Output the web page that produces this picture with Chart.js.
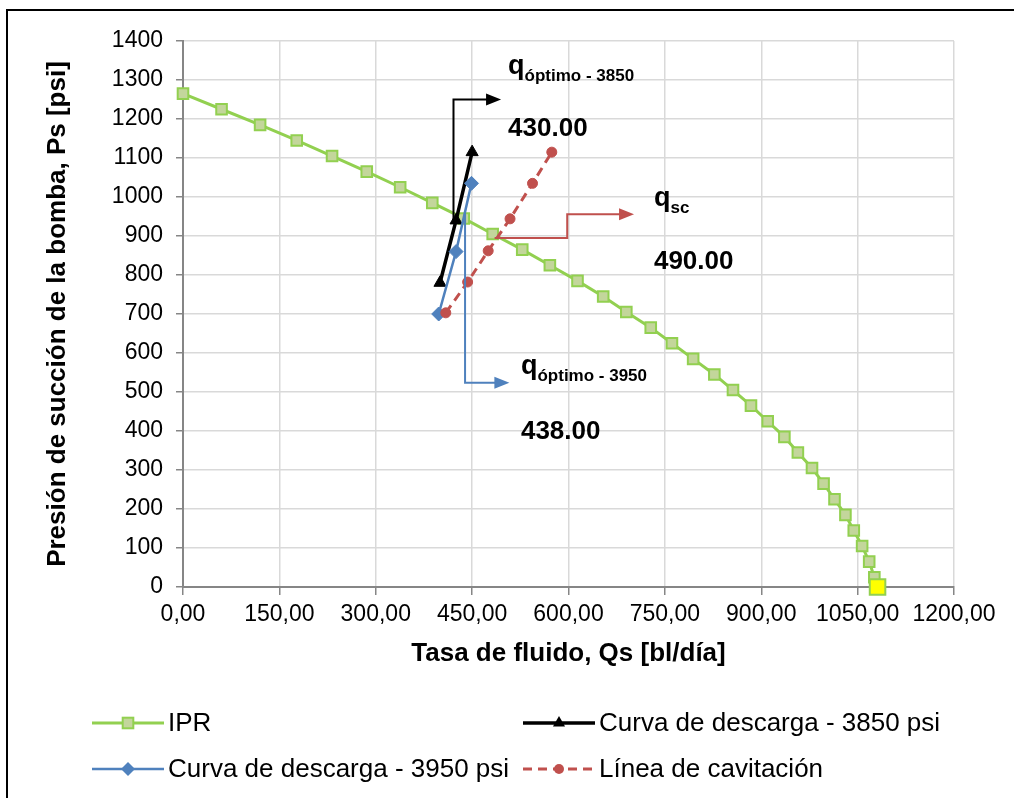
<!DOCTYPE html>
<html lang="es">
<head>
<meta charset="UTF-8">
<title>IPR y curvas de descarga</title>
<script src="https://cdn.jsdelivr.net/npm/chart.js"></script>
<style>
    body { margin: 0; padding: 0; background: #ffffff; }
    .wrap { position: relative; width: 1014px; height: 798px; }
</style>
</head>
<body>
<div class="wrap">
    <canvas id="iprChart" width="1014" height="798"></canvas>
</div>
<script>
// IPR curve (Qs in bl/dia, Ps in psi)
const iprQ = [0, 60, 120, 177, 232, 286, 338, 388, 437, 482, 528, 571, 614, 654, 690, 728, 761,
              794, 827, 856, 884, 910, 936, 957, 979, 997, 1014, 1031, 1044, 1057, 1068, 1076, 1081];
const iprP = [1265, 1225, 1185, 1145, 1105, 1065, 1025, 985, 945, 905, 865, 825, 785, 745, 705, 665, 625,
              585, 545, 505, 465, 425, 385, 345, 305, 265, 225, 185, 145, 105, 65, 25, 0];

// discharge curves
const desc3850Q = [400, 425, 450];
const desc3850P = [780, 940, 1115];
const desc3950Q = [398, 425, 449];
const desc3950P = [700, 860, 1035];

// cavitation line
const cavQ = [409, 443, 475, 509, 544, 574];
const cavP = [703, 782, 862, 944, 1035, 1115];

// results shown next to the arrows
const qOptimo3850 = 430.00;
const qSc = 490.00;
const qOptimo3950 = 438.00;

const xTicks = [0, 150, 300, 450, 600, 750, 900, 1050, 1200];

const toPoints = (qs, ps) => qs.map((q, i) => ({ x: q, y: ps[i] }));
const lastIpr = iprQ.length - 1;

// connector arrows, in data units: polyline ending with an arrow head
const arrows = [
    { color: '#000000', pts: [[421, 937], [421, 1250], [495, 1250]] },
    { color: '#4F81BD', pts: [[439, 958], [439, 524], [508, 524]] },
    { color: '#C0504D', pts: [[485, 895], [598, 895], [598, 956], [702, 956]] }
];

// annotation labels, anchored in data units
const notes = [
    { q: 506, p: 1316, main: 'q', sub: 'óptimo - 3850', value: qOptimo3850, valueP: 1176 },
    { q: 733, p: 976, main: 'q', sub: 'sc', value: qSc, valueP: 833 },
    { q: 526, p: 546, main: 'q', sub: 'óptimo - 3950', value: qOptimo3950, valueP: 398 }
];

function drawMarker(ctx, style, x, y, r) {
    ctx.beginPath();
    if (style === 'rect') {
        const s = r * Math.SQRT1_2;
        ctx.rect(x - s, y - s, 2 * s, 2 * s);
    } else if (style === 'triangle') {
        ctx.moveTo(x, y - r);
        ctx.lineTo(x + r * 0.866, y + r / 2);
        ctx.lineTo(x - r * 0.866, y + r / 2);
        ctx.closePath();
    } else if (style === 'rectRot') {
        ctx.moveTo(x, y - r);
        ctx.lineTo(x + r, y);
        ctx.lineTo(x, y + r);
        ctx.lineTo(x - r, y);
        ctx.closePath();
    } else {
        ctx.arc(x, y, r, 0, Math.PI * 2);
    }
    ctx.fill();
}

const annotationPlugin = {
    id: 'annotations',
    afterDatasetsDraw(chart) {
        const ctx = chart.ctx;
        const xs = chart.scales.x, ys = chart.scales.y;
        ctx.save();
        arrows.forEach(a => {
            const px = a.pts.map(p => [xs.getPixelForValue(p[0]), ys.getPixelForValue(p[1])]);
            ctx.strokeStyle = a.color;
            ctx.fillStyle = a.color;
            ctx.lineWidth = 2;
            ctx.beginPath();
            ctx.moveTo(px[0][0], px[0][1]);
            for (let i = 1; i < px.length; i++) {
                const last = i === px.length - 1;
                ctx.lineTo(last ? px[i][0] - 10 : px[i][0], px[i][1]);
            }
            ctx.stroke();
            const end = px[px.length - 1];
            ctx.beginPath();
            ctx.moveTo(end[0], end[1]);
            ctx.lineTo(end[0] - 15, end[1] - 6);
            ctx.lineTo(end[0] - 15, end[1] + 6);
            ctx.closePath();
            ctx.fill();
        });

        ctx.fillStyle = '#000000';
        ctx.textBaseline = 'alphabetic';
        ctx.textAlign = 'left';
        notes.forEach(n => {
            const x = xs.getPixelForValue(n.q);
            const y = ys.getPixelForValue(n.p);
            ctx.font = 'bold 27px "Liberation Sans", Arial, sans-serif';
            ctx.fillText(n.main, x, y);
            const w = ctx.measureText(n.main).width;
            ctx.font = 'bold 17px "Liberation Sans", Arial, sans-serif';
            ctx.fillText(n.sub, x + w, y + 7);
            ctx.font = 'bold 26px "Liberation Sans", Arial, sans-serif';
            ctx.textBaseline = 'middle';
            ctx.fillText(n.value.toFixed(2), x, ys.getPixelForValue(n.valueP));
            ctx.textBaseline = 'alphabetic';
        });
        ctx.restore();
    },
    afterDraw(chart) {
        const ctx = chart.ctx;
        ctx.save();
        // outer frame
        ctx.strokeStyle = '#000000';
        ctx.lineWidth = 2;
        ctx.strokeRect(7, 10, 1100, 900);

        // legend, two columns
        const slots = [[92, 723], [523, 723], [92, 769], [523, 769]];
        chart.data.datasets.forEach((ds, i) => {
            const [lx, ly] = slots[i];
            ctx.strokeStyle = ds.borderColor;
            ctx.lineWidth = ds.borderWidth;
            ctx.setLineDash(ds.borderDash || []);
            ctx.beginPath();
            ctx.moveTo(lx, ly);
            ctx.lineTo(lx + 72, ly);
            ctx.stroke();
            ctx.setLineDash([]);
            ctx.fillStyle = ds.legendFill;
            ctx.strokeStyle = ds.legendStroke;
            ctx.lineWidth = 2;
            drawMarker(ctx, ds.pointStyle, lx + 36, ly, ds.legendRadius);
            if (ds.pointStyle === 'rect') {
                const s = ds.legendRadius * Math.SQRT1_2;
                ctx.strokeRect(lx + 36 - s, ly - s, 2 * s, 2 * s);
            }
            ctx.fillStyle = '#000000';
            ctx.font = '26px "Liberation Sans", Arial, sans-serif';
            ctx.textBaseline = 'middle';
            ctx.textAlign = 'left';
            ctx.fillText(ds.label, lx + 76, ly + 1);
        });
        ctx.restore();
    }
};

const data = {
    datasets: [
        {
            label: 'IPR',
            data: toPoints(iprQ, iprP),
            borderColor: '#92D050',
            borderWidth: 3,
            pointStyle: 'rect',
            pointRadius: ctx => ctx.dataIndex === lastIpr ? 11 : 7.5,
            pointBackgroundColor: ctx => ctx.dataIndex === lastIpr ? '#FFFF00' : '#C3D69B',
            pointBorderColor: '#92D050',
            pointBorderWidth: 2,
            legendFill: '#C3D69B', legendStroke: '#92D050', legendRadius: 7.5,
            clip: false,
            order: 4
        },
        {
            label: 'Curva de descarga - 3850 psi',
            data: toPoints(desc3850Q, desc3850P),
            borderColor: '#000000',
            borderWidth: 3.5,
            pointStyle: 'triangle',
            pointRadius: 7,
            pointBackgroundColor: '#000000',
            pointBorderColor: '#000000',
            pointBorderWidth: 1,
            legendFill: '#000000', legendStroke: '#000000', legendRadius: 7,
            order: 3
        },
        {
            label: 'Curva de descarga - 3950 psi',
            data: toPoints(desc3950Q, desc3950P),
            borderColor: '#4F81BD',
            borderWidth: 2.5,
            pointStyle: 'rectRot',
            pointRadius: 7,
            pointBackgroundColor: '#4F81BD',
            pointBorderColor: '#4F81BD',
            pointBorderWidth: 1,
            legendFill: '#4F81BD', legendStroke: '#4F81BD', legendRadius: 7,
            order: 2
        },
        {
            label: 'Línea de cavitación',
            data: toPoints(cavQ, cavP),
            borderColor: '#C0504D',
            borderWidth: 3,
            borderDash: [9, 6],
            pointStyle: 'circle',
            pointRadius: 5,
            pointBackgroundColor: '#C0504D',
            pointBorderColor: '#C0504D',
            pointBorderWidth: 1,
            legendFill: '#C0504D', legendStroke: '#C0504D', legendRadius: 5,
            order: 1
        }
    ]
};

const tickFont = { family: '"Liberation Sans", Arial, sans-serif', size: 23 };
const titleFont = { family: '"Liberation Sans", Arial, sans-serif', size: 26, weight: 'bold' };

const config = {
    type: 'line',
    data: data,
    options: {
        responsive: false,
        animation: false,
        showLine: true,
        layout: { padding: { left: 0, top: 41, right: 60, bottom: 121 } },
        plugins: {
            legend: { display: false },
            tooltip: { enabled: false }
        },
        scales: {
            x: {
                type: 'linear',
                min: 0,
                max: 1200,
                afterBuildTicks: scale => { scale.ticks = xTicks.map(v => ({ value: v })); },
                afterFit: scale => { scale.height = 90; },
                ticks: {
                    font: tickFont,
                    color: '#000000',
                    padding: 6,
                    maxRotation: 0,
                    callback: v => v.toFixed(2).replace('.', ',')
                },
                grid: { color: '#d9d9d9', lineWidth: 1.5, tickColor: '#868686', tickLength: 8 },
                border: { color: '#868686', width: 2 },
                title: {
                    display: true,
                    text: 'Tasa de fluido, Qs [bl/día]',
                    font: titleFont,
                    color: '#000000',
                    padding: { top: 0, bottom: 8 }
                }
            },
            y: {
                type: 'linear',
                min: 0,
                max: 1400,
                afterFit: scale => { scale.width = 183; },
                ticks: {
                    stepSize: 100,
                    font: tickFont,
                    color: '#000000',
                    padding: 13,
                    callback: v => String(v)
                },
                grid: { color: '#d9d9d9', lineWidth: 1.5, tickColor: '#868686', tickLength: 7 },
                border: { color: '#868686', width: 2 },
                title: {
                    display: true,
                    text: 'Presión de succión de la bomba, Ps [psi]',
                    font: titleFont,
                    color: '#000000',
                    padding: { top: 42, bottom: 0 }
                }
            }
        }
    },
    plugins: [annotationPlugin]
};

const iprChart = new Chart(document.getElementById('iprChart'), config);
</script>
</body>
</html>
